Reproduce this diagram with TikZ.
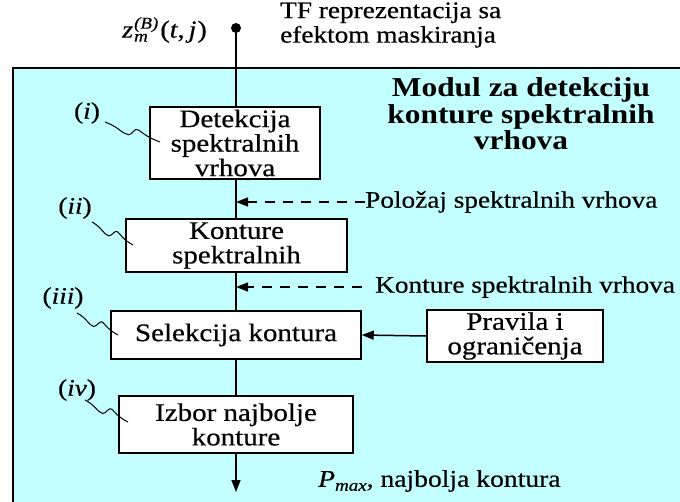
\documentclass[tikz,border=0pt]{standalone}
\usepackage{fontspec}
\setmainfont{Liberation Serif}[FakeStretch=1.15, UprightFeatures={FakeBold=0.5}, ItalicFeatures={FakeBold=0.5}]
\usetikzlibrary{arrows.meta,calc}
\definecolor{modcyan}{RGB}{196,255,255}
\newcommand\boxfont{\fontsize{25.2}{24.5}\selectfont}
\newcommand\lblfont{\fontsize{23.7}{22}\selectfont}
\newcommand\titlefont{\fontsize{27.3}{26.5}\selectfont\bfseries}
\newcommand\smallidx[1]{{\fontsize{16.5}{16.5}\selectfont\itshape #1}}
\newcommand\wavyline[2]{%
  \draw[wave] (#1) .. controls ($(#1)!0.25!(#2)$) and ($(#1)!0.33!(#2)!5pt!-90:(#2)$) ..
    ($(#1)!0.45!(#2)!4pt!-90:(#2)$) .. controls ($(#1)!0.52!(#2)!3pt!-90:(#2)$) and ($(#1)!0.5!(#2)!5pt!90:(#2)$) ..
    ($(#1)!0.58!(#2)!4pt!90:(#2)$) .. controls ($(#1)!0.66!(#2)!3pt!90:(#2)$) and ($(#1)!0.75!(#2)$) .. (#2);}
\tikzset{
  blk/.style={draw, line width=1.5pt, fill=white, align=center, inner sep=0pt, font=\boxfont},
  lbl/.style={inner sep=0pt, font=\lblfont},
  flow/.style={line width=1.5pt},
  arr/.style={line width=1.5pt, -{Triangle[length=12pt,width=9pt]}},
  darr/.style={line width=1.5pt, dash pattern=on 10pt off 8pt, -{Triangle[length=12pt,width=9pt]}},
  wave/.style={line width=1pt},
}
\begin{document}
\begin{tikzpicture}[x=1pt,y=-1pt]
\clip (0,0) rectangle (680,501);
\fill[white] (0,0) rectangle (680,501);
\draw[line width=1.5pt, fill=modcyan] (13,68) rectangle (700,520);

% top input
\node[circle, fill, inner sep=0pt, minimum size=10pt] (dot) at (236,28) {};
\node[lbl, anchor=east, font=\fontsize{24.5}{24}\selectfont] (z) at (207,30) {\textit{z}\kern1pt\rlap{\raisebox{-4pt}{\smallidx{m}}}\raisebox{9pt}{\smallidx{(\textit{B})}}\kern2pt(\textit{t},\kern4pt\textit{j}\kern1pt)};
\node[lbl, anchor=west, align=left, font=\fontsize{23.7}{24.5}\selectfont] (tf) at (280,25) {TF reprezentacija sa\\efektom maskiranja};

% title
\node[align=center, inner sep=0pt, font=\titlefont] (title) at (521,114) {Modul za detekciju\\konture spektralnih\\vrhova};

% blocks
\node[blk, minimum width=170pt, minimum height=72pt] (b1) at (235,143) {Detekcija\\spektralnih\\vrhova};
\node[blk, minimum width=221pt, minimum height=53pt] (b2) at (236.5,245.5) {Konture\\spektralnih};
\node[blk, minimum width=250pt, minimum height=48pt] (b3) at (236,335) {Selekcija kontura};
\node[blk, minimum width=234pt, minimum height=57pt] (b4) at (236,424.5) {Izbor najbolje\\konture};
\node[blk, minimum width=176pt, minimum height=52pt] (pr) at (515,336) {Pravila i\\ograničenja};

% flow
\draw[flow] (dot) -- (b1.north -| dot);
\draw[flow] (b1.south -| dot) -- (b2.north -| dot);
\draw[flow] (b2.south -| dot) -- (b3.north -| dot);
\draw[flow] (b3.south -| dot) -- (b4.north -| dot);
\coordinate (out) at (236,492);
\draw[arr] (b4.south -| dot) -- (out);
\draw[arr] (pr.west) -- (b3.east);

% dashed inputs
\node[lbl, anchor=west] (pol) at (365,202) {Položaj spektralnih vrhova};
\draw[darr] (pol.west) -- (pol.west -| dot);
\node[lbl, anchor=west] (kon) at (375,287) {Konture spektralnih vrhova};
\coordinate (k0) at (362,287);
\draw[darr] (k0) -- (k0 -| dot);

% output label
\node[lbl, anchor=west, font=\fontsize{24}{24}\selectfont] (pm) at (318,481) {\textit{P}\raisebox{-4pt}{\smallidx{max}}, najbolja kontura};

% step labels
\node[lbl] (li) at (87,113) {(\textit{i})};
\node[lbl] (lii) at (75,208) {(\textit{ii})};
\node[lbl] (liii) at (63,298) {(\textit{iii})};
\node[lbl] (liv) at (77,390) {(\textit{iv})};
\coordinate (w1s) at (105,122); \coordinate (w1e) at (160,142);
\coordinate (w2s) at (92,222);  \coordinate (w2e) at (133,245);
\coordinate (w3s) at (77,313);  \coordinate (w3e) at (118,335);
\coordinate (w4s) at (85,400);  \coordinate (w4e) at (128,422);
\wavyline{w1s}{w1e}
\wavyline{w2s}{w2e}
\wavyline{w3s}{w3e}
\wavyline{w4s}{w4e}
\end{tikzpicture}
\end{document}
